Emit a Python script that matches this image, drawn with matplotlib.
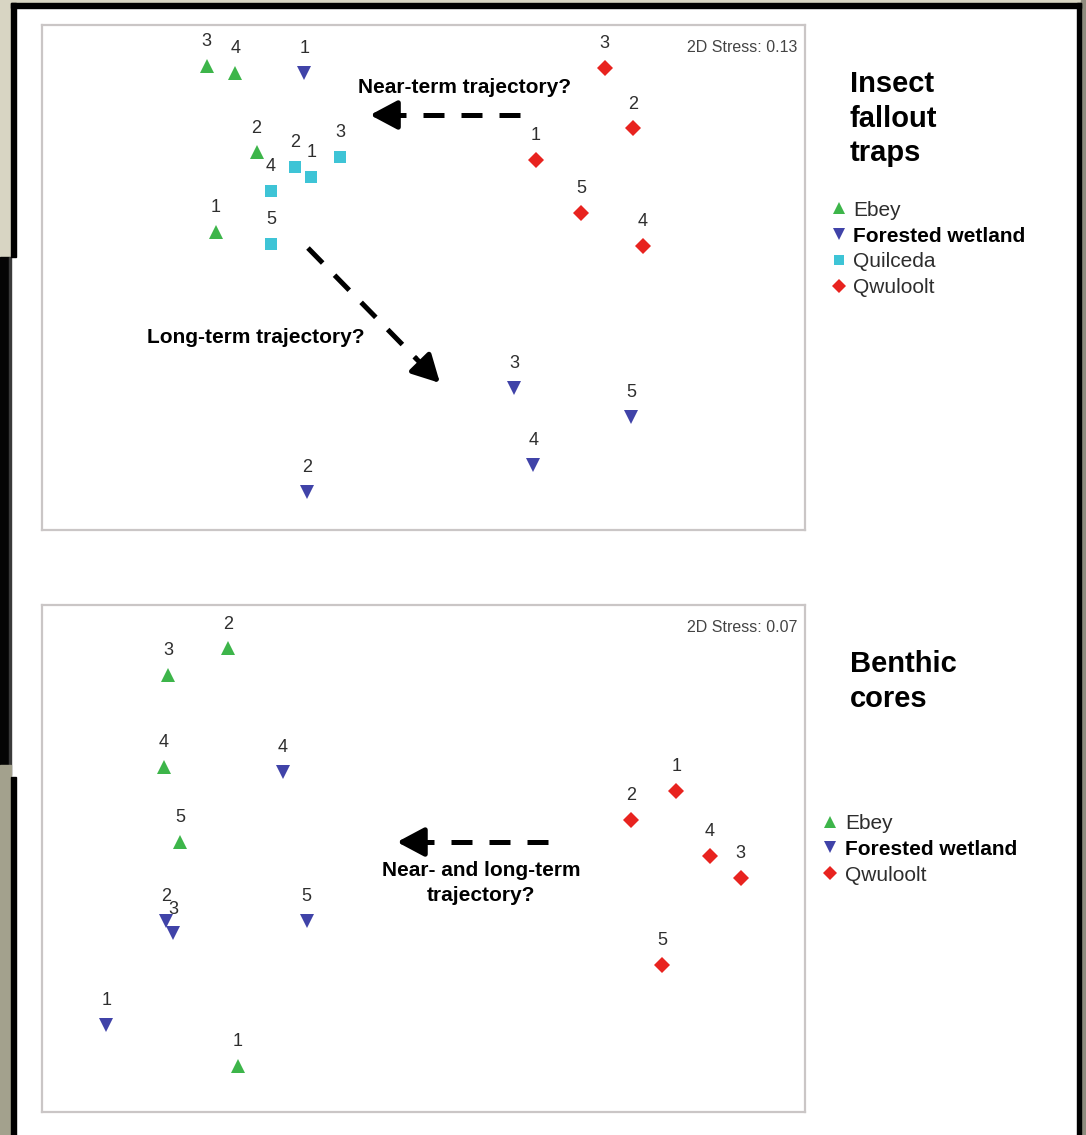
import numpy as np
import matplotlib.pyplot as plt
from matplotlib.patches import Rectangle

plt.rcParams['font.family'] = ['Liberation Sans', 'DejaVu Sans']

# NMDS ordination scores, insect fallout traps (site numbers 1..n)
top_ebey_id = [1, 2, 3, 4]
top_ebey_x = [-0.87, -0.70, -0.91, -0.79]
top_ebey_y = [0.19, 0.52, 0.88, 0.85]

top_fw_id = [1, 2, 3, 4, 5]
top_fw_x = [-0.50, -0.49, 0.38, 0.46, 0.87]
top_fw_y = [0.85, -0.89, -0.46, -0.78, -0.58]

top_quil_id = [1, 2, 3, 4, 5]
top_quil_x = [-0.47, -0.54, -0.35, -0.64, -0.64]
top_quil_y = [0.42, 0.46, 0.50, 0.36, 0.14]

top_qwu_id = [1, 2, 3, 4, 5]
top_qwu_x = [0.47, 0.88, 0.76, 0.92, 0.66]
top_qwu_y = [0.49, 0.62, 0.87, 0.13, 0.27]

# NMDS ordination scores, benthic cores
bot_ebey_id = [1, 2, 3, 4, 5]
bot_ebey_x = [-0.78, -0.82, -1.07, -1.09, -1.02]
bot_ebey_y = [-0.86, 0.87, 0.76, 0.38, 0.07]

bot_fw_id = [1, 2, 3, 4, 5]
bot_fw_x = [-1.33, -1.08, -1.05, -0.59, -0.49]
bot_fw_y = [-0.69, -0.26, -0.31, 0.36, -0.26]

bot_qwu_id = [1, 2, 3, 4, 5]
bot_qwu_x = [1.06, 0.87, 1.33, 1.20, 1.00]
bot_qwu_y = [0.28, 0.16, -0.08, 0.01, -0.44]

stress_top = 0.13
stress_bot = 0.07

# marker style per site
styles = {
    'Ebey': dict(marker='^', color='#3db54a', ms=10),
    'Forested wetland': dict(marker='v', color='#4043a8', ms=10),
    'Quilceda': dict(marker='s', color='#3ec4d6', ms=8.5),
    'Qwuloolt': dict(marker='D', color='#e8231f', ms=8),
}

fig = plt.figure(figsize=(10.86, 11.35), dpi=100)
W, H = 1086, 1135


def px_rect(x0, y0, x1, y1, color):
    # rectangle given in pixel coords measured from the top-left corner
    fig.patches.append(Rectangle((x0 / W, 1 - y1 / H), (x1 - x0) / W, (y1 - y0) / H,
                                 transform=fig.transFigure, color=color, zorder=-5))


# slide surroundings and border
px_rect(0, 0, 1086, 3, '#d8d5c3')
px_rect(0, 0, 11, 257, '#d8d5c3')
px_rect(0, 257, 9, 765, '#050505')
px_rect(9, 257, 11, 775, '#3a3a3a')
px_rect(0, 765, 11, 1135, '#a3a18d')
px_rect(1081, 0, 1086, 1135, '#8e8c7e')
px_rect(11, 3, 1081, 8, '#000000')
px_rect(11, 3, 16, 257, '#000000')
px_rect(11, 777, 16, 1135, '#000000')
px_rect(1077, 3, 1081, 1135, '#000000')


def scatter_sites(ax, name, ids, xs, ys):
    st = styles[name]
    ax.plot(xs, ys, linestyle='none', marker=st['marker'], color=st['color'],
            markersize=st['ms'], markeredgewidth=0, label=name)
    for i, x, y in zip(ids, xs, ys):
        ax.annotate(str(i), (x, y), xytext=(0, 17.5), textcoords='offset points',
                    ha='center', va='center', fontsize=13, color='#2e2e2e')


def dashed_arrow(ax, tail, head):
    tail = np.array(tail)
    head = np.array(head)
    # dashed shaft stops short of the head, solid head drawn separately
    vec = head - tail
    mid = tail + vec * 0.82
    ax.plot([tail[0], mid[0]], [tail[1], mid[1]], transform=ax.transAxes,
            color='black', lw=3.6, dashes=(4.2, 3.4), dash_capstyle='butt',
            clip_on=False)
    ax.annotate('', xy=head, xytext=mid, xycoords='axes fraction',
                textcoords='axes fraction',
                arrowprops=dict(arrowstyle='-|>,head_length=0.75,head_width=0.4',
                                color='black', lw=3.6, shrinkA=0, shrinkB=0,
                                mutation_scale=22))


def setup_axes(ax, stress):
    ax.set_xlim(-1.6, 1.6)
    ax.set_ylim(-1.05, 1.05)
    ax.set_xticks([])
    ax.set_yticks([])
    for sp in ax.spines.values():
        sp.set_color('#cac6c6')
        sp.set_linewidth(1.6)
    ax.text(0.99, 0.97, '2D Stress: %.2f' % stress, transform=ax.transAxes,
            ha='right', va='top', fontsize=11.5, color='#444444')


def add_legend(ax, x_anchor, y_anchor):
    leg = ax.legend(loc='upper left', bbox_to_anchor=(x_anchor, y_anchor),
                    frameon=False, fontsize=15, handlelength=0.6,
                    handletextpad=0.4, labelspacing=0.33, borderpad=0,
                    borderaxespad=0, markerscale=0.9)
    for t in leg.get_texts():
        if t.get_text() == 'Forested wetland':
            t.set_fontweight('bold')
            t.set_color('black')
        else:
            t.set_color('#2d2d2d')
    return leg


# insect fallout traps
ax1 = fig.add_axes([42 / W, 1 - 530 / H, 763 / W, 505 / H])
setup_axes(ax1, stress_top)
scatter_sites(ax1, 'Ebey', top_ebey_id, top_ebey_x, top_ebey_y)
scatter_sites(ax1, 'Forested wetland', top_fw_id, top_fw_x, top_fw_y)
scatter_sites(ax1, 'Quilceda', top_quil_id, top_quil_x, top_quil_y)
scatter_sites(ax1, 'Qwuloolt', top_qwu_id, top_qwu_x, top_qwu_y)
add_legend(ax1, 1.036, 0.652)

ax1.text(0.5537, 0.8772, 'Near-term trajectory?', transform=ax1.transAxes,
         ha='center', va='center', fontsize=15, fontweight='bold')
dashed_arrow(ax1, (0.6265, 0.8218), (0.430, 0.8218))
ax1.text(0.2805, 0.3802, 'Long-term trajectory?', transform=ax1.transAxes,
         ha='center', va='center', fontsize=15, fontweight='bold')
dashed_arrow(ax1, (0.3486, 0.5584), (0.5216, 0.2911))

fig.text(850 / W, 1 - 70 / H, 'Insect\nfallout\ntraps', ha='left', va='top',
         fontsize=21, fontweight='bold', linespacing=1.3)

# benthic cores
ax2 = fig.add_axes([42 / W, 1 - 1112 / H, 763 / W, 507 / H])
setup_axes(ax2, stress_bot)
scatter_sites(ax2, 'Ebey', bot_ebey_id, bot_ebey_x, bot_ebey_y)
scatter_sites(ax2, 'Forested wetland', bot_fw_id, bot_fw_x, bot_fw_y)
scatter_sites(ax2, 'Qwuloolt', bot_qwu_id, bot_qwu_x, bot_qwu_y)
add_legend(ax2, 1.025, 0.588)

ax2.text(0.5754, 0.4517, 'Near- and long-term\ntrajectory?', transform=ax2.transAxes,
         ha='center', va='center', fontsize=15, fontweight='bold', linespacing=1.4)
dashed_arrow(ax2, (0.663, 0.5325), (0.4653, 0.5325))

fig.text(850 / W, 1 - 650 / H, 'Benthic\ncores', ha='left', va='top',
         fontsize=21, fontweight='bold', linespacing=1.3)

fig.savefig('out.png', dpi=100)
